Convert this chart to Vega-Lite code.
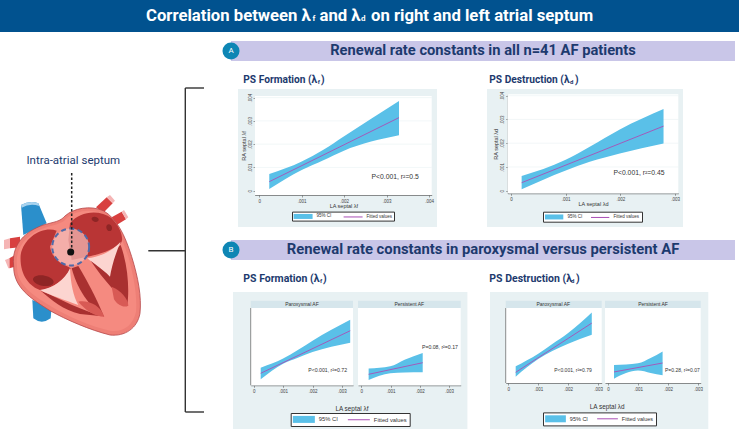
{"$schema":"https://vega.github.io/schema/vega-lite/v6.json","padding":0,"background":"white","spacing":0,"bounds":"full","data":{"values":[{}]},"resolve":{"scale":{"color":"independent","shape":"independent"},"legend":{"color":"independent","shape":"independent"}},
"config":{"view":{"stroke":null},"concat":{"spacing":0},"text":{"font":"Roboto"},"area":{"interpolate":"monotone"},"axis":{"grid":false,"zindex":1,"labelFont":"Liberation Sans","titleFont":"Liberation Sans","labelFontSize":4.5,"titleFontSize":5.5,"titleFontWeight":"normal","labelColor":"#444","titleColor":"#333","tickColor":"#444","domainColor":"#444","tickWidth":0.5,"domainWidth":0.6,"tickSize":2,"labelPadding":1,"labelExpr":"datum.value==0?'0':replace(format(datum.value,'.3f'),'0.','.')"}},
"vconcat":[
{"width":739,"height":32,"view":{"fill":"#01528f"},"encoding":{"y":{"datum":0.5,"type":"quantitative","scale":{"domain":[0,1]},"axis":null}},"layer":[
{"mark":{"type":"text","text":"Correlation between λ","align":"left","color":"white","fontWeight":"bold","fontSize":16.7},"encoding":{"x":{"datum":146,"type":"quantitative","scale":{"domain":[0,739]},"axis":null}}},
{"mark":{"type":"text","text":"f","align":"left","color":"white","fontWeight":"bold","fontSize":8,"dy":3},"encoding":{"x":{"datum":312.5,"type":"quantitative","scale":{"domain":[0,739]},"axis":null}}},
{"mark":{"type":"text","text":"and λ","align":"left","color":"white","fontWeight":"bold","fontSize":16.7},"encoding":{"x":{"datum":319.5,"type":"quantitative","scale":{"domain":[0,739]},"axis":null}}},
{"mark":{"type":"text","text":"d","align":"left","color":"white","fontWeight":"bold","fontSize":8,"dy":3},"encoding":{"x":{"datum":361,"type":"quantitative","scale":{"domain":[0,739]},"axis":null}}},
{"mark":{"type":"text","text":"on right and left atrial septum","align":"left","color":"white","fontWeight":"bold","fontSize":16.7},"encoding":{"x":{"datum":371,"type":"quantitative","scale":{"domain":[0,739]},"axis":null}}}
]},
{"spacing":0,"resolve":{"scale":{"color":"independent","shape":"independent"},"legend":{"color":"independent","shape":"independent"}},"hconcat":[
{"width":218,"height":403,"layer":[
{"data":{"values":[{"part":"veinA"},{"part":"veinB"},{"part":"art1"},{"part":"art2"},{"part":"art3"},{"part":"art4"},{"part":"fade1"},{"part":"fade2"},{"part":"fade3"},{"part":"fade4"},{"part":"fade5"},{"part":"body"},{"part":"wall"},{"part":"ra"},{"part":"la"},{"part":"rv"},{"part":"lv"},{"part":"sep"},{"part":"v1"},{"part":"v2"},{"part":"pm1"},{"part":"pm2"},{"part":"o1"},{"part":"o2"},{"part":"o3"}]},"mark":{"type":"point","filled":true,"size":0.4444,"opacity":1,"stroke":"#b5484a"},"encoding":{"strokeWidth":{"condition":{"test":"datum.part=='body'","value":0.8},"value":0},"x":{"datum":0,"type":"quantitative","scale":{"domain":[0,218]},"axis":null},"y":{"datum":140,"type":"quantitative","scale":{"domain":[435,32]},"axis":null},"shape":{"field":"part","type":"nominal","legend":null,"scale":{"domain":["veinA","veinB","art1","art2","art3","art4","fade1","fade2","fade3","fade4","fade5","body","wall","ra","la","rv","lv","sep","v1","v2","pm1","pm2","o1","o2","o3"],"range":["M63,195 Q90,180 115,190 L140,250 L70,285 Z","M97,480 L155,500 L152,535 Q125,555 100,535 Z","M288,202 L320,172 L338,190 L310,218 Z","M335,232 L365,215 L378,238 L350,255 Z","M30,295 L60,290 L60,322 L30,325 Z","M28,355 L45,345 L45,380 L28,385 Z","M320,172 L330,165 L345,182 L338,190 Z","M365,215 L372,210 L385,232 L378,238 Z","M30,295 L12,300 L12,328 L30,325 Z","M28,355 L15,360 L25,385 L28,385 Z","M63,195 Q90,180 115,190 L118,198 Q90,188 65,203 Z","M40,365 C40,310 75,275 130,255 C165,245 180,245 195,228 C220,205 270,195 310,212 C350,235 375,285 395,350 C415,415 425,470 420,520 C412,565 375,590 330,585 C270,570 200,540 150,512 C100,480 50,450 42,395 Z","M50,365 C50,315 85,280 135,263 C170,253 185,252 200,235 C225,213 270,205 305,220 C342,240 365,290 385,350 C402,410 412,470 408,515 C400,555 370,578 330,572 C270,558 205,530 155,500 C105,470 60,440 52,395 Z","M62,345 C72,290 130,258 170,272 L150,320 C160,370 200,375 212,385 C200,410 170,440 125,452 C85,440 58,400 62,345 Z","M210,250 C240,212 300,208 335,235 C365,265 372,300 362,310 C330,335 290,345 262,350 L215,360 L205,300 Z","M122,452 C165,470 205,490 240,505 L300,528 L240,522 C190,510 155,480 122,452 Z","M272,362 C300,358 335,335 362,315 C385,380 388,450 382,495 C360,470 310,420 272,362 Z","M215,385 L235,378 C260,420 285,465 312,530 C280,510 235,460 215,385 Z","M120,450 C160,445 195,420 210,385 C212,430 220,470 235,495 C195,480 150,465 120,450 Z","M262,355 C300,350 335,335 362,305 C345,345 335,380 330,410 C305,385 280,370 262,355 Z","M335,440 C360,450 385,475 385,497 C372,505 352,495 342,478 Z","M235,485 C265,480 300,495 313,530 C285,530 255,510 235,485 Z","M100,422 A30,15 10 1 0 160,422 A30,15 10 1 0 100,422 Z","M275,238 A10,7 15 1 0 296,238 A10,7 15 1 0 275,238 Z","M319,263 A8,10 -20 1 0 336,263 A8,10 -20 1 0 319,263 Z"]}},"fill":{"field":"part","type":"nominal","legend":null,"scale":{"domain":["veinA","veinB","art1","art2","art3","art4","fade1","fade2","fade3","fade4","fade5","body","wall","ra","la","rv","lv","sep","v1","v2","pm1","pm2","o1","o2","o3"],"range":["#2b8fcb","#2b8fcb","#d8403f","#d8403f","#d8403f","#d8403f","#f5b5b5","#f5b5b5","#f5b5b5","#f5b5b5","#a9d3ee","#ee7f76","#f58a80","#b93535","#b93535","#a93030","#a93030","#a93030","#fcd5d0","#fcd5d0","#d85a55","#d85a55","#8e2525","#8e2525","#8e2525"]}}}},
{"mark":{"type":"point","filled":true,"size":1360,"fill":"#f4bdb8","opacity":0.72,"shape":"circle"},"encoding":{"x":{"datum":70.7,"type":"quantitative","scale":{"domain":[0,218]},"axis":null},"y":{"datum":247,"type":"quantitative","scale":{"domain":[435,32]},"axis":null}}},
{"mark":{"type":"point","filled":false,"size":1360,"stroke":"#4f6aa8","strokeWidth":2,"strokeDash":[5,3.5],"opacity":1,"shape":"circle"},"encoding":{"x":{"datum":70.7,"type":"quantitative","scale":{"domain":[0,218]},"axis":null},"y":{"datum":247,"type":"quantitative","scale":{"domain":[435,32]},"axis":null}}},
{"mark":{"type":"rule","color":"#222","strokeWidth":1.5,"strokeDash":[2.5,2]},"encoding":{"x":{"datum":71.7,"type":"quantitative","scale":{"domain":[0,218]},"axis":null},"y":{"datum":173,"type":"quantitative","scale":{"domain":[435,32]},"axis":null},"y2":{"datum":252}}},
{"mark":{"type":"point","filled":true,"size":50,"color":"#111","opacity":1,"shape":"circle"},"encoding":{"x":{"datum":70.7,"type":"quantitative","scale":{"domain":[0,218]},"axis":null},"y":{"datum":252,"type":"quantitative","scale":{"domain":[435,32]},"axis":null}}},
{"mark":{"type":"text","text":"Intra-atrial septum","fontSize":11.5,"color":"#1d3a6e"},"encoding":{"x":{"datum":73.3,"type":"quantitative","scale":{"domain":[0,218]},"axis":null},"y":{"datum":160.7,"type":"quantitative","scale":{"domain":[435,32]},"axis":null}}},
{"mark":{"type":"rule","color":"#333","strokeWidth":1.4},"encoding":{"x":{"datum":185.3,"type":"quantitative","scale":{"domain":[0,218]},"axis":null},"y":{"datum":88,"type":"quantitative","scale":{"domain":[435,32]},"axis":null},"y2":{"datum":412}}},
{"mark":{"type":"rule","color":"#333","strokeWidth":1.4},"encoding":{"x":{"datum":185.3,"type":"quantitative","scale":{"domain":[0,218]},"axis":null},"x2":{"datum":204},"y":{"datum":88,"type":"quantitative","scale":{"domain":[435,32]},"axis":null}}},
{"mark":{"type":"rule","color":"#333","strokeWidth":1.4},"encoding":{"x":{"datum":185.3,"type":"quantitative","scale":{"domain":[0,218]},"axis":null},"x2":{"datum":204},"y":{"datum":412,"type":"quantitative","scale":{"domain":[435,32]},"axis":null}}},
{"mark":{"type":"rule","color":"#333","strokeWidth":1.4},"encoding":{"x":{"datum":148.3,"type":"quantitative","scale":{"domain":[0,218]},"axis":null},"x2":{"datum":185.3},"y":{"datum":250.7,"type":"quantitative","scale":{"domain":[435,32]},"axis":null}}}
]},
{"spacing":0,"resolve":{"scale":{"color":"independent","shape":"independent"},"legend":{"color":"independent","shape":"independent"}},"vconcat":[
{"width":521,"height":57,"encoding":{"x":{"datum":483,"type":"quantitative","scale":{"domain":[218,739]},"axis":null},"y":{"datum":51,"type":"quantitative","scale":{"domain":[89,32]},"axis":null}},"layer":[
{"mark":{"type":"rect","color":"#c9c6e8"},"encoding":{"x":{"datum":231,"type":"quantitative","scale":{"domain":[218,739]},"axis":null},"x2":{"datum":735},"y":{"datum":41,"type":"quantitative","scale":{"domain":[89,32]},"axis":null},"y2":{"datum":61}}},
{"mark":{"type":"point","filled":true,"size":290,"color":"#0e86b4","opacity":1,"shape":"circle"},"encoding":{"x":{"datum":231,"type":"quantitative","scale":{"domain":[218,739]},"axis":null}}},
{"mark":{"type":"text","text":"A","color":"white","fontSize":8},"encoding":{"x":{"datum":231,"type":"quantitative","scale":{"domain":[218,739]},"axis":null}}},
{"mark":{"type":"text","text":"Renewal rate constants in all n=41 AF patients","color":"#1d3a6e","fontWeight":"bold","fontSize":14.7}},
{"mark":{"type":"text","text":"PS Formation (λ","align":"left","color":"#1d3a6e","fontWeight":"bold","fontSize":10.2},"encoding":{"x":{"datum":243.3,"type":"quantitative","scale":{"domain":[218,739]},"axis":null},"y":{"datum":80,"type":"quantitative","scale":{"domain":[89,32]},"axis":null}}},
{"mark":{"type":"text","text":"f","align":"left","color":"#1d3a6e","fontWeight":"bold","fontSize":6,"dy":2},"encoding":{"x":{"datum":317.7,"type":"quantitative","scale":{"domain":[218,739]},"axis":null},"y":{"datum":80,"type":"quantitative","scale":{"domain":[89,32]},"axis":null}}},
{"mark":{"type":"text","text":")","align":"left","color":"#1d3a6e","fontWeight":"bold","fontSize":10.2},"encoding":{"x":{"datum":321,"type":"quantitative","scale":{"domain":[218,739]},"axis":null},"y":{"datum":80,"type":"quantitative","scale":{"domain":[89,32]},"axis":null}}},
{"mark":{"type":"text","text":"PS Destruction (λ","align":"left","color":"#1d3a6e","fontWeight":"bold","fontSize":10.2},"encoding":{"x":{"datum":489.3,"type":"quantitative","scale":{"domain":[218,739]},"axis":null},"y":{"datum":80,"type":"quantitative","scale":{"domain":[89,32]},"axis":null}}},
{"mark":{"type":"text","text":"d","align":"left","color":"#1d3a6e","fontWeight":"bold","fontSize":6,"dy":2},"encoding":{"x":{"datum":570,"type":"quantitative","scale":{"domain":[218,739]},"axis":null},"y":{"datum":80,"type":"quantitative","scale":{"domain":[89,32]},"axis":null}}},
{"mark":{"type":"text","text":")","align":"left","color":"#1d3a6e","fontWeight":"bold","fontSize":10.2},"encoding":{"x":{"datum":575,"type":"quantitative","scale":{"domain":[218,739]},"axis":null},"y":{"datum":80,"type":"quantitative","scale":{"domain":[89,32]},"axis":null}}}
]},
{"spacing":0,"resolve":{"scale":{"color":"independent","shape":"independent"},"legend":{"color":"independent","shape":"independent"}},"hconcat":[
{"data":{"values":[]},"width":20,"height":1,"mark":"point"},
{"width":199,"height":138,"view":{"fill":"#e8f1f3"},"encoding":{"x":{"field":"x","type":"quantitative","scale":{"domain":[-0.0001,0.00406],"range":[17,193.7],"nice":false,"zero":false},"axis":{"values":[0,0.001,0.002,0.003,0.004],"offset":-32,"title":"LA septal λf","titlePadding":1}},"y":{"field":"y","type":"quantitative","scale":{"domain":[-0.000185,0.00407],"range":[106,7],"nice":false,"zero":false},"axis":{"values":[0,0.001,0.002,0.003,0.004],"offset":-17,"title":"RA septal λf","labelAngle":-90,"labelAlign":"center","labelBaseline":"bottom","titlePadding":1}}},"layer":[
{"data":{"values":[{"x":-0.0001,"x2":0.00406,"y":-0.000185,"y2":0.00407}]},"mark":{"type":"rect","color":"white"},"encoding":{"x2":{"field":"x2"},"y2":{"field":"y2"}}},
{"data":{"values":[{"x":-0.0001,"x2":0.00406,"y":0.001},{"x":-0.0001,"x2":0.00406,"y":0.002},{"x":-0.0001,"x2":0.00406,"y":0.003},{"x":-0.0001,"x2":0.00406,"y":0.004}]},"mark":{"type":"rule","color":"#eaf2f3","strokeWidth":0.6},"encoding":{"x2":{"field":"x2"}}},
{"data":{"values":[{"k":"95% CI"},{"k":"Fitted values"}]},"mark":{"type":"point","filled":true,"opacity":1},"encoding":{"color":{"field":"k","type":"nominal","scale":{"domain":["95% CI","Fitted values"],"range":["#5ac0e8","#a94fb5"]},"legend":{"title":null,"orient":"none","legendX":54,"legendY":122.6,"direction":"horizontal","columns":2,"fillColor":"#fff","strokeColor":"#333","padding":1.6,"symbolSize":36,"labelFontSize":4.5,"labelFont":"Liberation Sans","labelColor":"#333","labelOffset":17,"columnPadding":12,"symbolStrokeWidth":0}},"shape":{"field":"k","type":"nominal","scale":{"domain":["95% CI","Fitted values"],"range":["M-1,-0.83H5.33V0.83H-1Z","M-1,-0.17H5.33V0.17H-1Z"]},"legend":{"title":null,"orient":"none","legendX":54,"legendY":122.6,"direction":"horizontal","columns":2,"fillColor":"#fff","strokeColor":"#333","padding":1.6,"symbolSize":36,"labelFontSize":4.5,"labelFont":"Liberation Sans","labelColor":"#333","labelOffset":17,"columnPadding":12,"symbolStrokeWidth":0}}}},
{"data":{"values":[{"x":0.000236,"y":0.00007,"y2":0.000717},{"x":0.001,"y":0.00089,"y2":0.00125},{"x":0.00151,"y":0.00131,"y2":0.00176},{"x":0.00198,"y":0.00171,"y2":0.00232},{"x":0.00329,"y":0.00238,"y2":0.00386}]},"mark":{"type":"area","opacity":1},"encoding":{"y2":{"field":"y2"},"color":{"datum":"95% CI","type":"nominal","scale":{"domain":["95% CI","Fitted values"],"range":["#5ac0e8","#a94fb5"]},"legend":null}}},
{"data":{"values":[{"x":0.000236,"y":0.000387},{"x":0.00329,"y":0.00314}]},"mark":{"type":"line","strokeWidth":0.9},"encoding":{"color":{"datum":"Fitted values","type":"nominal","scale":{"domain":["95% CI","Fitted values"],"range":["#5ac0e8","#a94fb5"]},"legend":null}}},
{"data":{"values":[{"x":0.0032,"y":0.000573,"t":"P<0.001, r²=0.5"}]},"mark":{"type":"text","font":"Liberation Sans","fontSize":6.8,"color":"#333"},"encoding":{"text":{"field":"t"}}}
]},
{"data":{"values":[]},"width":50,"height":1,"mark":"point"},
{"width":196,"height":138,"view":{"fill":"#e8f1f3"},"encoding":{"x":{"field":"x","type":"quantitative","scale":{"domain":[-0.00006,0.00306],"range":[20.7,191.3],"nice":false,"zero":false},"axis":{"values":[0,0.001,0.002,0.003],"offset":-33.7,"title":"LA septal λd","titlePadding":1}},"y":{"field":"y","type":"quantitative","scale":{"domain":[-0.00011,0.00406],"range":[104.3,5.3],"nice":false,"zero":false},"axis":{"values":[0,0.001,0.002,0.003,0.004],"offset":-20.7,"title":"RA septal λd","labelAngle":-90,"labelAlign":"center","labelBaseline":"bottom","titlePadding":1}}},"layer":[
{"data":{"values":[{"x":-0.00006,"x2":0.00306,"y":-0.00011,"y2":0.00406}]},"mark":{"type":"rect","color":"white"},"encoding":{"x2":{"field":"x2"},"y2":{"field":"y2"}}},
{"data":{"values":[{"x":-0.00006,"x2":0.00306,"y":0.001},{"x":-0.00006,"x2":0.00306,"y":0.002},{"x":-0.00006,"x2":0.00306,"y":0.003},{"x":-0.00006,"x2":0.00306,"y":0.004}]},"mark":{"type":"rule","color":"#eaf2f3","strokeWidth":0.6},"encoding":{"x2":{"field":"x2"}}},
{"data":{"values":[{"k":"95% CI"},{"k":"Fitted values"}]},"mark":{"type":"point","filled":true,"opacity":1},"encoding":{"color":{"field":"k","type":"nominal","scale":{"domain":["95% CI","Fitted values"],"range":["#5ac0e8","#a94fb5"]},"legend":{"title":null,"orient":"none","legendX":56,"legendY":122.7,"direction":"horizontal","columns":2,"fillColor":"#fff","strokeColor":"#333","padding":2,"symbolSize":36,"labelFontSize":4.5,"labelFont":"Liberation Sans","labelColor":"#333","labelOffset":16.5,"columnPadding":8,"symbolStrokeWidth":0}},"shape":{"field":"k","type":"nominal","scale":{"domain":["95% CI","Fitted values"],"range":["M-1,-0.83H5.1V0.83H-1Z","M-1,-0.17H5.1V0.17H-1Z"]},"legend":{"title":null,"orient":"none","legendX":56,"legendY":122.7,"direction":"horizontal","columns":2,"fillColor":"#fff","strokeColor":"#333","padding":2,"symbolSize":36,"labelFontSize":4.5,"labelFont":"Liberation Sans","labelColor":"#333","labelOffset":16.5,"columnPadding":8,"symbolStrokeWidth":0}}}},
{"data":{"values":[{"x":0.000195,"y":0.00006,"y2":0.000618},{"x":0.00099,"y":0.00084,"y2":0.00129},{"x":0.00144,"y":0.00122,"y2":0.00185},{"x":0.00199,"y":0.00157,"y2":0.00258},{"x":0.00279,"y":0.00199,"y2":0.00344}]},"mark":{"type":"area","opacity":1},"encoding":{"y2":{"field":"y2"},"color":{"datum":"95% CI","type":"nominal","scale":{"domain":["95% CI","Fitted values"],"range":["#5ac0e8","#a94fb5"]},"legend":null}}},
{"data":{"values":[{"x":0.000195,"y":0.000337},{"x":0.00279,"y":0.00272}]},"mark":{"type":"line","strokeWidth":0.9},"encoding":{"color":{"datum":"Fitted values","type":"nominal","scale":{"domain":["95% CI","Fitted values"],"range":["#5ac0e8","#a94fb5"]},"legend":null}}},
{"data":{"values":[{"x":0.00234,"y":0.00073,"t":"P<0.001, r²=0.45"}]},"mark":{"type":"text","font":"Liberation Sans","fontSize":6.8,"color":"#333"},"encoding":{"text":{"field":"t"}}}
]}
]},
{"width":521,"height":65,"encoding":{"x":{"datum":483,"type":"quantitative","scale":{"domain":[218,739]},"axis":null},"y":{"datum":250,"type":"quantitative","scale":{"domain":[292,227]},"axis":null}},"layer":[
{"mark":{"type":"rect","color":"#c9c6e8"},"encoding":{"x":{"datum":231,"type":"quantitative","scale":{"domain":[218,739]},"axis":null},"x2":{"datum":735},"y":{"datum":240,"type":"quantitative","scale":{"domain":[292,227]},"axis":null},"y2":{"datum":260}}},
{"mark":{"type":"point","filled":true,"size":290,"color":"#0e86b4","opacity":1,"shape":"circle"},"encoding":{"x":{"datum":231,"type":"quantitative","scale":{"domain":[218,739]},"axis":null}}},
{"mark":{"type":"text","text":"B","color":"white","fontSize":8},"encoding":{"x":{"datum":231,"type":"quantitative","scale":{"domain":[218,739]},"axis":null}}},
{"mark":{"type":"text","text":"Renewal rate constants in paroxysmal versus persistent AF","color":"#1d3a6e","fontWeight":"bold","fontSize":14.8}},
{"mark":{"type":"text","text":"PS Formation (λ","align":"left","color":"#1d3a6e","fontWeight":"bold","fontSize":10.5},"encoding":{"x":{"datum":243.3,"type":"quantitative","scale":{"domain":[218,739]},"axis":null},"y":{"datum":279,"type":"quantitative","scale":{"domain":[292,227]},"axis":null}}},
{"mark":{"type":"text","text":"f","align":"left","color":"#1d3a6e","fontWeight":"bold","fontSize":6,"dy":2},"encoding":{"x":{"datum":320,"type":"quantitative","scale":{"domain":[218,739]},"axis":null},"y":{"datum":279,"type":"quantitative","scale":{"domain":[292,227]},"axis":null}}},
{"mark":{"type":"text","text":")","align":"left","color":"#1d3a6e","fontWeight":"bold","fontSize":10.5},"encoding":{"x":{"datum":323,"type":"quantitative","scale":{"domain":[218,739]},"axis":null},"y":{"datum":279,"type":"quantitative","scale":{"domain":[292,227]},"axis":null}}},
{"mark":{"type":"text","text":"PS Destruction (λ","align":"left","color":"#1d3a6e","fontWeight":"bold","fontSize":10.5},"encoding":{"x":{"datum":489.3,"type":"quantitative","scale":{"domain":[218,739]},"axis":null},"y":{"datum":279,"type":"quantitative","scale":{"domain":[292,227]},"axis":null}}},
{"mark":{"type":"text","text":"d","align":"left","color":"#1d3a6e","fontWeight":"bold","fontSize":6,"dy":2},"encoding":{"x":{"datum":571,"type":"quantitative","scale":{"domain":[218,739]},"axis":null},"y":{"datum":279,"type":"quantitative","scale":{"domain":[292,227]},"axis":null}}},
{"mark":{"type":"text","text":")","align":"left","color":"#1d3a6e","fontWeight":"bold","fontSize":10.5},"encoding":{"x":{"datum":576,"type":"quantitative","scale":{"domain":[218,739]},"axis":null},"y":{"datum":279,"type":"quantitative","scale":{"domain":[292,227]},"axis":null}}}
]},
{"spacing":0,"resolve":{"scale":{"color":"independent","shape":"independent"},"legend":{"color":"independent","shape":"independent"}},"hconcat":[
{"data":{"values":[]},"width":15,"height":1,"mark":"point"},
{"width":234.4,"height":137,"view":{"fill":"#e8f1f3"},"resolve":{"scale":{"x":"independent"}},"layer":[
{"encoding":{"x":{"field":"x","type":"quantitative","scale":{"domain":[-0.000102,0.003375],"range":[17.7,120],"nice":false,"zero":false},"axis":{"values":[0,0.001,0.002,0.003],"orient":"bottom","offset":-43.7,"title":"LA septal λf","titleX":118.4,"titleFontSize":6.4,"titlePadding":13}},"y":{"field":"y","type":"quantitative","scale":{"domain":[-0.000316,0.00585],"range":[93.3,8.7],"nice":false,"zero":false},"axis":{"values":[0,0.005],"offset":-17.7,"domain":false,"title":"RA septal λf","titleFontSize":6.4,"labelAngle":-90,"labelAlign":"center","labelBaseline":"bottom","titlePadding":1}}},"layer":[
{"data":{"values":[{"x":-0.000102,"x2":0.003375,"y":-0.000316,"y2":0.005316}]},"mark":{"type":"rect","color":"white"},"encoding":{"x2":{"field":"x2"},"y2":{"field":"y2"}}},
{"data":{"values":[{"x":-0.000102,"x2":0.003375,"y":0.005316,"y2":0.00585}]},"mark":{"type":"rect","color":"#d6e6ec"},"encoding":{"x2":{"field":"x2"},"y2":{"field":"y2"}}},
{"data":{"values":[{"x":-0.000102,"y":-0.000316,"y2":0.005316}]},"mark":{"type":"rule","color":"#444","strokeWidth":0.6},"encoding":{"y2":{"field":"y2"}}},
{"data":{"values":[{"x":0.00164,"y":0.00558,"t":"Paroxysmal AF"}]},"mark":{"type":"text","font":"Liberation Sans","fontSize":5,"color":"#333"},"encoding":{"text":{"field":"t"}}},
{"data":{"values":[{"k":"95% CI"},{"k":"Fitted values"}]},"mark":{"type":"point","filled":true,"opacity":1},"encoding":{"color":{"field":"k","type":"nominal","scale":{"domain":["95% CI","Fitted values"],"range":["#5ac0e8","#a94fb5"]},"legend":{"title":null,"orient":"none","legendX":57.7,"legendY":121,"direction":"horizontal","columns":2,"fillColor":"#fff","strokeColor":"#333","padding":2.15,"symbolSize":64,"labelFontSize":5.8,"labelFont":"Liberation Sans","labelColor":"#333","labelOffset":18,"columnPadding":9,"symbolStrokeWidth":0}},"shape":{"field":"k","type":"nominal","scale":{"domain":["95% CI","Fitted values"],"range":["M-1,-0.875H4.5V0.875H-1Z","M-1,-0.125H4.5V0.125H-1Z"]},"legend":{"title":null,"orient":"none","legendX":57.7,"legendY":121,"direction":"horizontal","columns":2,"fillColor":"#fff","strokeColor":"#333","padding":2.15,"symbolSize":64,"labelFontSize":5.8,"labelFont":"Liberation Sans","labelColor":"#333","labelOffset":18,"columnPadding":9,"symbolStrokeWidth":0}}}},
{"data":{"values":[{"x":0.000238,"y":0.00012,"y2":0.00097},{"x":0.001,"y":0.00126,"y2":0.00163},{"x":0.0015,"y":0.0017,"y2":0.00225},{"x":0.002,"y":0.00211,"y2":0.00294},{"x":0.00328,"y":0.00279,"y2":0.00447}]},"mark":{"type":"area","opacity":1},"encoding":{"y2":{"field":"y2"},"color":{"datum":"95% CI","type":"nominal","scale":{"domain":["95% CI","Fitted values"],"range":["#5ac0e8","#a94fb5"]},"legend":null}}},
{"data":{"values":[{"x":0.000238,"y":0.000558},{"x":0.00328,"y":0.00366}]},"mark":{"type":"line","strokeWidth":0.9},"encoding":{"color":{"datum":"Fitted values","type":"nominal","scale":{"domain":["95% CI","Fitted values"],"range":["#5ac0e8","#a94fb5"]},"legend":null}}},
{"data":{"values":[{"x":0.002514,"y":0.00078,"t":"P<0.001, r²=0.72"}]},"mark":{"type":"text","font":"Liberation Sans","fontSize":5.2,"color":"#333"},"encoding":{"text":{"field":"t"}}}
]},
{"encoding":{"x":{"field":"x","type":"quantitative","scale":{"domain":[-0.000114,0.0034],"range":[125,227.7],"nice":false,"zero":false},"axis":{"values":[0,0.001,0.002,0.003],"orient":"bottom","offset":-43.7,"title":null}},"y":{"field":"y","type":"quantitative","axis":null,"scale":{"domain":[-0.000316,0.00585],"range":[93.3,8.7],"nice":false,"zero":false}}},"layer":[
{"data":{"values":[{"x":-0.000114,"x2":0.0034,"y":-0.000316,"y2":0.005316}]},"mark":{"type":"rect","color":"white"},"encoding":{"x2":{"field":"x2"},"y2":{"field":"y2"}}},
{"data":{"values":[{"x":-0.000114,"x2":0.0034,"y":0.005316,"y2":0.00585}]},"mark":{"type":"rect","color":"#d6e6ec"},"encoding":{"x2":{"field":"x2"},"y2":{"field":"y2"}}},
{"data":{"values":[{"x":0.00164,"y":0.00558,"t":"Persistent AF"}]},"mark":{"type":"text","font":"Liberation Sans","fontSize":5,"color":"#333"},"encoding":{"text":{"field":"t"}}},
{"data":{"values":[{"x":0.00025,"y":0.00007,"y2":0.0009},{"x":0.00099,"y":0.00056,"y2":0.00107},{"x":0.00148,"y":0.00061,"y2":0.00155},{"x":0.0021,"y":0.00063,"y2":0.00204}]},"mark":{"type":"area","opacity":1},"encoding":{"y2":{"field":"y2"},"color":{"datum":"95% CI","type":"nominal","scale":{"domain":["95% CI","Fitted values"],"range":["#5ac0e8","#a94fb5"]},"legend":null}}},
{"data":{"values":[{"x":0.00025,"y":0.000485},{"x":0.0021,"y":0.00133}]},"mark":{"type":"line","strokeWidth":0.9},"encoding":{"color":{"datum":"Fitted values","type":"nominal","scale":{"domain":["95% CI","Fitted values"],"range":["#5ac0e8","#a94fb5"]},"legend":null}}},
{"data":{"values":[{"x":0.00269,"y":0.00248,"t":"P=0.08, r²=0.17"}]},"mark":{"type":"text","font":"Liberation Sans","fontSize":5.2,"color":"#333"},"encoding":{"text":{"field":"t"}}}
]}
]},
{"data":{"values":[]},"width":22,"height":1,"mark":"point"},
{"width":218.3,"height":137,"view":{"fill":"#e8f1f3"},"resolve":{"scale":{"x":"independent"}},"layer":[
{"encoding":{"x":{"field":"x","type":"quantitative","scale":{"domain":[-0.000089,0.003122],"range":[15.7,111.7],"nice":false,"zero":false},"axis":{"values":[0,0.001,0.002,0.003],"orient":"bottom","offset":-46,"title":"LA septal λd","titleX":116.7,"titleFontSize":6.4,"titlePadding":13}},"y":{"field":"y","type":"quantitative","scale":{"domain":[-0.0002,0.00472],"range":[91,8.7],"nice":false,"zero":false},"axis":{"values":[0,0.001,0.002,0.003,0.004],"offset":-15.7,"domain":false,"title":"RA septal λd","titleFontSize":6.4,"labelAngle":-90,"labelAlign":"center","labelBaseline":"bottom","titlePadding":1}}},"layer":[
{"data":{"values":[{"x":-0.000089,"x2":0.003122,"y":-0.0002,"y2":0.00428}]},"mark":{"type":"rect","color":"white"},"encoding":{"x2":{"field":"x2"},"y2":{"field":"y2"}}},
{"data":{"values":[{"x":-0.000089,"x2":0.003122,"y":0.00428,"y2":0.00472}]},"mark":{"type":"rect","color":"#d6e6ec"},"encoding":{"x2":{"field":"x2"},"y2":{"field":"y2"}}},
{"data":{"values":[{"x":-0.000089,"y":-0.0002,"y2":0.00428}]},"mark":{"type":"rule","color":"#444","strokeWidth":0.6},"encoding":{"y2":{"field":"y2"}}},
{"data":{"values":[{"x":0.0015,"y":0.0045,"t":"Paroxysmal AF"}]},"mark":{"type":"text","font":"Liberation Sans","fontSize":5,"color":"#333"},"encoding":{"text":{"field":"t"}}},
{"data":{"values":[{"k":"95% CI"},{"k":"Fitted values"}]},"mark":{"type":"point","filled":true,"opacity":1},"encoding":{"color":{"field":"k","type":"nominal","scale":{"domain":["95% CI","Fitted values"],"range":["#5ac0e8","#a94fb5"]},"legend":{"title":null,"orient":"none","legendX":53,"legendY":120.4,"direction":"horizontal","columns":2,"fillColor":"#fff","strokeColor":"#333","padding":2.15,"symbolSize":64,"labelFontSize":5.5,"labelFont":"Liberation Sans","labelColor":"#333","labelOffset":16.7,"columnPadding":9,"symbolStrokeWidth":0}},"shape":{"field":"k","type":"nominal","scale":{"domain":["95% CI","Fitted values"],"range":["M-1,-0.875H4.18V0.875H-1Z","M-1,-0.125H4.18V0.125H-1Z"]},"legend":{"title":null,"orient":"none","legendX":53,"legendY":120.4,"direction":"horizontal","columns":2,"fillColor":"#fff","strokeColor":"#333","padding":2.15,"symbolSize":64,"labelFontSize":5.5,"labelFont":"Liberation Sans","labelColor":"#333","labelOffset":16.7,"columnPadding":9,"symbolStrokeWidth":0}}}},
{"data":{"values":[{"x":0.000245,"y":0.00018,"y2":0.0008},{"x":0.001,"y":0.00123,"y2":0.00155},{"x":0.00147,"y":0.00172,"y2":0.00213},{"x":0.002,"y":0.00215,"y2":0.00279},{"x":0.00279,"y":0.00269,"y2":0.00402}]},"mark":{"type":"area","opacity":1},"encoding":{"y2":{"field":"y2"},"color":{"datum":"95% CI","type":"nominal","scale":{"domain":["95% CI","Fitted values"],"range":["#5ac0e8","#a94fb5"]},"legend":null}}},
{"data":{"values":[{"x":0.000245,"y":0.000438},{"x":0.00279,"y":0.00338}]},"mark":{"type":"line","strokeWidth":0.9},"encoding":{"color":{"datum":"Fitted values","type":"nominal","scale":{"domain":["95% CI","Fitted values"],"range":["#5ac0e8","#a94fb5"]},"legend":null}}},
{"data":{"values":[{"x":0.00216,"y":0.00056,"t":"P<0.001, r²=0.79"}]},"mark":{"type":"text","font":"Liberation Sans","fontSize":5,"color":"#333"},"encoding":{"text":{"field":"t"}}}
]},
{"encoding":{"x":{"field":"x","type":"quantitative","scale":{"domain":[-0.0001,0.00309],"range":[115,210.7],"nice":false,"zero":false},"axis":{"values":[0,0.001,0.002,0.003],"orient":"bottom","offset":-46,"title":null}},"y":{"field":"y","type":"quantitative","axis":null,"scale":{"domain":[-0.0002,0.00472],"range":[91,8.7],"nice":false,"zero":false}}},"layer":[
{"data":{"values":[{"x":-0.0001,"x2":0.00309,"y":-0.0002,"y2":0.00428}]},"mark":{"type":"rect","color":"white"},"encoding":{"x2":{"field":"x2"},"y2":{"field":"y2"}}},
{"data":{"values":[{"x":-0.0001,"x2":0.00309,"y":0.00428,"y2":0.00472}]},"mark":{"type":"rect","color":"#d6e6ec"},"encoding":{"x2":{"field":"x2"},"y2":{"field":"y2"}}},
{"data":{"values":[{"x":0.0015,"y":0.0045,"t":"Persistent AF"}]},"mark":{"type":"text","font":"Liberation Sans","fontSize":5,"color":"#333"},"encoding":{"text":{"field":"t"}}},
{"data":{"values":[{"x":0.0002,"y":0.00006,"y2":0.000876},{"x":0.001,"y":0.00054,"y2":0.00098},{"x":0.00142,"y":0.0004,"y2":0.00129},{"x":0.00182,"y":0.00026,"y2":0.00169}]},"mark":{"type":"area","opacity":1},"encoding":{"y2":{"field":"y2"},"color":{"datum":"95% CI","type":"nominal","scale":{"domain":["95% CI","Fitted values"],"range":["#5ac0e8","#a94fb5"]},"legend":null}}},
{"data":{"values":[{"x":0.0002,"y":0.00046},{"x":0.00182,"y":0.000995}]},"mark":{"type":"line","strokeWidth":0.9},"encoding":{"color":{"datum":"Fitted values","type":"nominal","scale":{"domain":["95% CI","Fitted values"],"range":["#5ac0e8","#a94fb5"]},"legend":null}}},
{"data":{"values":[{"x":0.00248,"y":0.00056,"t":"P=0.28, r²=0.07"}]},"mark":{"type":"text","font":"Liberation Sans","fontSize":5,"color":"#333"},"encoding":{"text":{"field":"t"}}}
]}
]}
]}
]}
]}
]}
